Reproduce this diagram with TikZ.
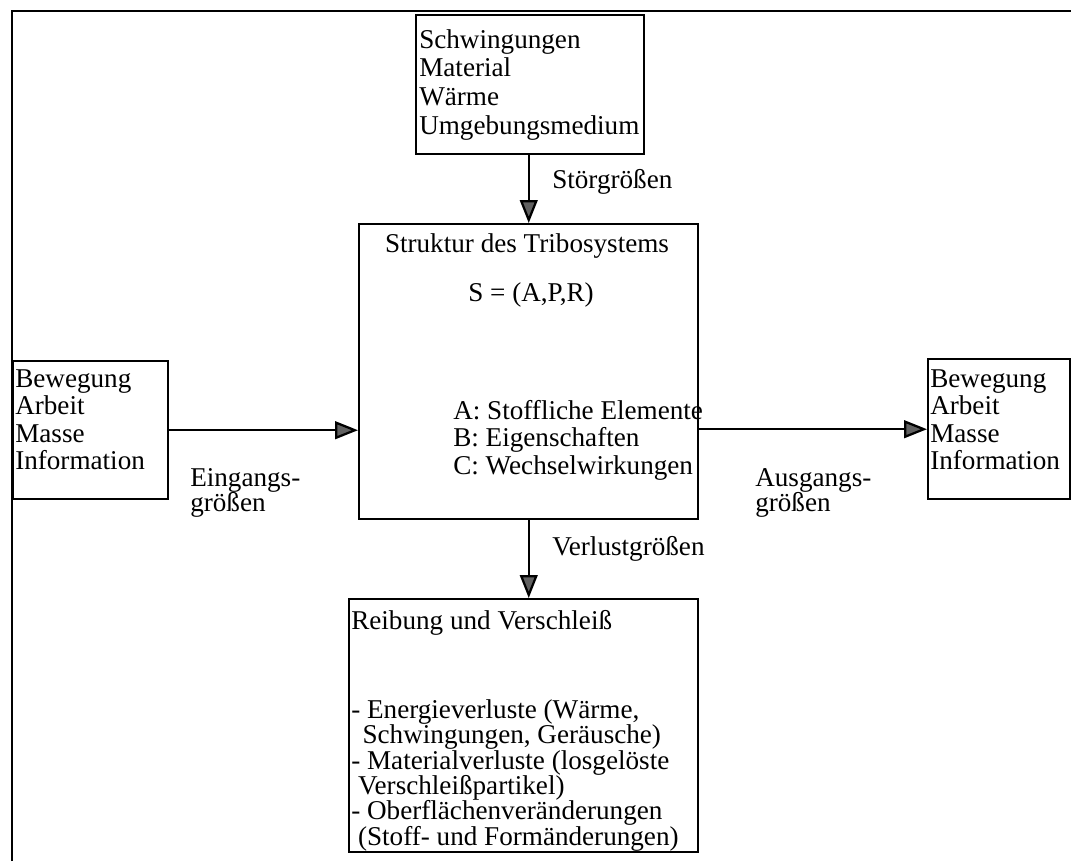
\documentclass[tikz,border=0pt]{standalone}
\usepackage{fontspec}
\setmainfont{Liberation Serif}
\usepackage{tikz}
\usetikzlibrary{arrows.meta,positioning}
\tikzstyle{box} = [draw, line width=1.7pt, anchor=north west, inner sep=0pt]
\tikzstyle{txt} = [anchor=north west, align=left, inner sep=0pt, font=\fontsize{19.3}{19.6}\selectfont]
\tikzstyle{tedge} = [draw, line width=1.6pt, -{Triangle[length=0.57cm, width=0.44cm, fill=black!62]}]
\tikzstyle{frame} = [draw, line width=2pt]

\begin{document}
\begin{tikzpicture}[x=0.025cm, y=-0.025cm]
\useasboundingbox (0,0) rectangle (1071,861);

% outer frame ============================
\coordinate (fa) at (12,861);
\coordinate (fb) at (12,11);
\coordinate (fc) at (1071,11);
\path[frame] (fa) -- (fb) -- (fc);

% boxes ==================================
\node[box, minimum width=5.7cm, minimum height=3.475cm] (stoer) at (415,14) {};
\node[box, minimum width=8.475cm, minimum height=7.375cm] (struk) at (358,223) {};
\node[box, minimum width=3.875cm, minimum height=3.45cm] (ein) at (12,360) {};
\node[box, minimum width=3.55cm, minimum height=3.5cm] (aus) at (927,358) {};
\node[box, minimum width=8.725cm, minimum height=6.325cm] (verl) at (348,598) {};

% texts
\node[txt, font=\fontsize{19.3}{20.4}\selectfont] (stoertxt) at (419,29) {Schwingungen\\Material\\Wärme\\Umgebungsmedium};
\node[txt, anchor=north] (struktitle) at (527,233) {Struktur des Tribosystems};
\node[txt] (strukset) at (468,282) {S = (A,P,R)};
\node[txt] (struklist) at (453,400) {A: Stoffliche Elemente\\B: Eigenschaften\\C: Wechselwirkungen};
\node[txt] (eintxt) at (15,369) {Bewegung\\Arbeit\\Masse\\Information};
\node[txt] (austxt) at (930,369) {Bewegung\\Arbeit\\Masse\\Information};
\node[txt] (verltitle) at (351,610) {Reibung und Verschleiß};
\node[txt, font=\fontsize{19.3}{18.1}\selectfont] (verllist) at (351,699) {- Energieverluste (Wärme,\\\ \,Schwingungen, Geräusche)\\- Materialverluste (losgelöste\\\ Verschleißpartikel)\\- Oberflächenveränderungen\\\ (Stoff- und Formänderungen)};

% labels
\node[txt] (lstoer) at (552,169) {Störgrößen};
\node[txt, font=\fontsize{19.3}{18}\selectfont] (lein) at (190,468) {Eingangs-\\größen};
\node[txt, font=\fontsize{19.3}{18}\selectfont] (laus) at (755,468) {Ausgangs-\\größen};
\node[txt] (lverl) at (552,536) {Verlustgrößen};

% edges
\path[tedge] (struk.north |- stoer.south) -- (struk.north);
\path[tedge] (ein.east) -- (ein.east -| struk.west);
\path[tedge] (aus.west -| struk.east) -- (aus.west);
\path[tedge] (struk.south) -- (struk.south |- verl.north);

\end{tikzpicture}
\end{document}
